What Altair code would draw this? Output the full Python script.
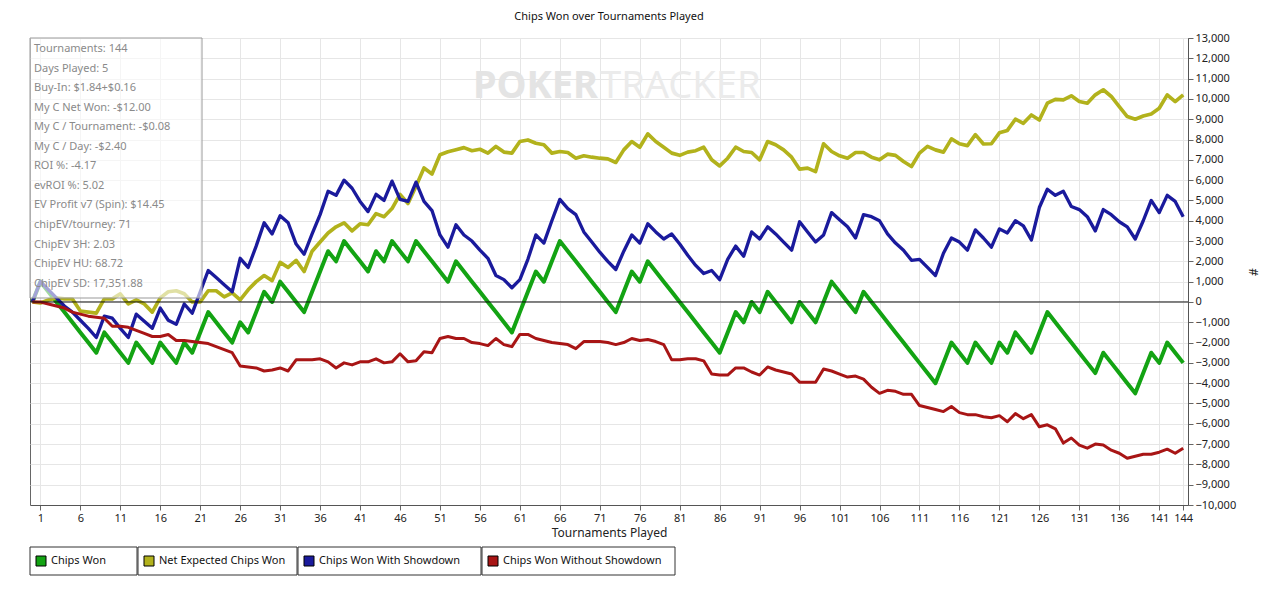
import altair as alt
import pandas as pd

# tournament index (0 = start)
tournaments = list(range(145))

chips_won = [
    0, 1000, 500, 0, -500, -1000, -1500, -2000, -2500, -1500, -2000, -2500, -3000, -2000, -2500, -3000,
    -2000, -2500, -3000, -2000, -2500, -1500, -500, -1000, -1500, -2000, -1000, -1500, -500, 500, 0,
    1000, 500, 0, -500, 500, 1500, 2500, 2000, 3000, 2500, 2000, 1500, 2500, 2000, 3000, 2500, 2000,
    3000, 2500, 2000, 1500, 1000, 2000, 1500, 1000, 500, 0, -500, -1000, -1500, -500, 500, 1500, 1000,
    2000, 3000, 2500, 2000, 1500, 1000, 500, 0, -500, 500, 1500, 1000, 2000, 1500, 1000, 500, 0, -500,
    -1000, -1500, -2000, -2500, -1500, -500, -1000, 0, -500, 500, 0, -500, -1000, 0, -500, -1000, 0,
    1000, 500, 0, -500, 500, 0, -500, -1000, -1500, -2000, -2500, -3000, -3500, -4000, -3000, -2000,
    -2500, -3000, -2000, -2500, -3000, -2000, -2500, -1500, -2000, -2500, -1500, -500, -1000, -1500,
    -2000, -2500, -3000, -3500, -2500, -3000, -3500, -4000, -4500, -3500, -2500, -3000, -2000, -2500, -3000,
]

net_expected = [
    0, -50, 100, 200, 150, 150, -450, -500, -550, 150, 150, 400, -100, 100, -100, -500, 200, 500, 550,
    400, 0, 0, 550, 550, 250, 450, 100, 600, 1000, 1300, 1050, 1950, 1700, 2050, 1500, 2500, 2950, 3400,
    3700, 3900, 3500, 3850, 3800, 4350, 4200, 4600, 5300, 4850, 5700, 6600, 6300, 7250, 7400, 7500, 7600,
    7450, 7520, 7330, 7660, 7380, 7330, 7900, 7980, 7820, 7740, 7330, 7410, 7360, 7080, 7200, 7130, 7080,
    7050, 6870, 7490, 7900, 7620, 8280, 7900, 7620, 7330, 7220, 7380, 7450, 7620, 7000, 6700, 7080, 7620,
    7410, 7360, 7000, 7900, 7740, 7490, 7130, 6540, 6590, 6420, 7790, 7410, 7200, 7080, 7360, 7360, 7130,
    7000, 7280, 7220, 6920, 6670, 7330, 7660, 7490, 7380, 8030, 7790, 7700, 8240, 7780, 7790, 8330, 8450,
    9000, 8800, 9210, 8960, 9790, 9980, 9950, 10150, 9870, 9790, 10200, 10450, 10120, 9620, 9130, 9000,
    9160, 9260, 9540, 10200, 9870, 10200,
]

with_showdown = [
    0, 1000, 600, 200, -200, -500, -900, -1300, -1750, -700, -800, -1300, -1750, -600, -950, -1300, -300,
    -900, -1100, -100, -550, 500, 1550, 1200, 850, 500, 2150, 1700, 2750, 3900, 3350, 4250, 3900, 2850,
    2350, 3350, 4300, 5450, 5250, 6000, 5600, 4950, 4450, 5300, 5000, 5950, 5050, 4950, 5900, 4950, 4500,
    3300, 2700, 3800, 3300, 3000, 2550, 2150, 1300, 1100, 700, 1100, 2100, 3300, 2900, 4000, 5050, 4600,
    4300, 3450, 2950, 2450, 2000, 1600, 2500, 3300, 2900, 3850, 3450, 3100, 3350, 2850, 2300, 1800, 1400,
    1550, 1100, 2100, 2750, 2250, 3450, 3100, 3700, 3350, 2950, 2550, 3950, 3450, 2950, 3300, 4400, 4050,
    3700, 3150, 4300, 4200, 4000, 3350, 2900, 2550, 2050, 2100, 1700, 1300, 2400, 3150, 2950, 2550, 3550,
    3150, 2700, 3600, 3400, 4000, 3750, 3050, 4650, 5550, 5250, 5450, 4700, 4550, 4200, 3500, 4550, 4300,
    3950, 3700, 3100, 4000, 5000, 4400, 5250, 4950, 4200,
]

without_showdown = [
    0, 0, -100, -200, -300, -500, -600, -700, -750, -800, -1200, -1200, -1250, -1400, -1550, -1700, -1700,
    -1600, -1900, -1900, -1950, -2000, -2050, -2200, -2350, -2500, -3150, -3200, -3250, -3400, -3350,
    -3250, -3400, -2850, -2850, -2850, -2800, -2950, -3250, -3000, -3100, -2950, -2950, -2800, -3000,
    -2950, -2550, -2950, -2900, -2450, -2500, -1800, -1700, -1800, -1800, -2000, -2050, -2150, -1800,
    -2100, -2200, -1600, -1600, -1800, -1900, -2000, -2050, -2100, -2300, -1950, -1950, -1950, -2000,
    -2100, -2000, -1800, -1900, -1850, -1950, -2100, -2850, -2850, -2800, -2800, -2900, -3550, -3600,
    -3600, -3250, -3250, -3450, -3600, -3200, -3350, -3450, -3550, -3950, -3950, -3950, -3300, -3400,
    -3550, -3700, -3650, -3800, -4200, -4500, -4350, -4400, -4550, -4550, -5100, -5200, -5300, -5400,
    -5150, -5450, -5550, -5550, -5650, -5700, -5600, -5900, -5500, -5750, -5550, -6150, -6050, -6250,
    -6950, -6700, -7050, -7200, -7000, -7050, -7300, -7450, -7700, -7600, -7500, -7500, -7400, -7250,
    -7450, -7200,
]

series_names = ["Chips Won", "Net Expected Chips Won", "Chips Won With Showdown", "Chips Won Without Showdown"]
series_colors = ["#13a313", "#b2b21c", "#1a1a9c", "#a81515"]
series_widths = [4, 3, 2, 2]

x_ticks = list(range(1, 142, 5)) + [144]
y_ticks = list(range(-10000, 13001, 1000))

stats_lines = [
    "Tournaments: 144", "Days Played: 5", "Buy-In: $1.84+$0.16", "My C Net Won: -$12.00",
    "My C / Tournament: -$0.08", "My C / Day: -$2.40", "ROI %: -4.17", "evROI %: 5.02",
    "EV Profit v7 (Spin): $14.45", "chipEV/tourney: 71", "ChipEV 3H: 2.03", "ChipEV HU: 68.72",
    "ChipEV SD: 17,351.88",
]

frames = []
for name, vals in zip(series_names, [chips_won, net_expected, with_showdown, without_showdown]):
    frames.append(pd.DataFrame({"t": tournaments, "chips": vals, "series": name}))
df = pd.concat(frames)
df["order"] = df["series"].map({"Net Expected Chips Won": 0, "Chips Won Without Showdown": 1,
                                "Chips Won With Showdown": 2, "Chips Won": 3})

FONT = "Noto Sans"
W, H = 1158, 467

x_scale = alt.Scale(domain=[-0.3, 144.6], nice=False, zero=False)
y_scale = alt.Scale(domain=[-10000, 13000], nice=False)
x_axis = alt.Axis(values=x_ticks, labelFontSize=11, titleFontSize=12, titleFontWeight="normal",
                  labelColor="#222", titleColor="#222", gridColor="#e6e6e6", tickColor="#666",
                  domainColor="#555", labelFlush=False, titlePadding=4)
y_axis = alt.Axis(orient="right", values=y_ticks, format=",.0f",
                  labelFontSize=11, titleFontSize=12, titleFontWeight="normal",
                  labelColor="#222", titleColor="#222", gridColor="#e6e6e6",
                  tickColor="#666", domainColor="#555", titlePadding=10)


def xy(xf="t:Q", yf="chips:Q"):
    return dict(x=alt.X(xf, title="Tournaments Played", scale=x_scale, axis=x_axis),
                y=alt.Y(yf, title="#", scale=y_scale, axis=y_axis))


lines = alt.Chart(df).mark_line(strokeJoin="round").encode(
    **xy(),
    color=alt.Color("series:N", scale=alt.Scale(domain=series_names, range=series_colors), legend=None),
    strokeWidth=alt.StrokeWidth("series:N", scale=alt.Scale(domain=series_names, range=series_widths),
                                legend=None),
    order="order:Q",
    detail="series:N",
)

zero = alt.Chart(pd.DataFrame({"t": [0], "chips": [0]})).mark_rule(color="#111", strokeWidth=1).encode(
    y=xy()["y"])

watermark_a = alt.Chart(pd.DataFrame({"s": ["POKER"]})).mark_text(
    align="right", baseline="middle", font=FONT, fontSize=38, fontWeight="bold", color="#e4e4e4"
).encode(text="s:N", x=alt.value(568), y=alt.value(49))
watermark_b = alt.Chart(pd.DataFrame({"s": ["TRACKER"]})).mark_text(
    align="left", baseline="middle", font=FONT, fontSize=38, color="#ebebeb"
).encode(text="s:N", x=alt.value(570), y=alt.value(49))

stats_box = alt.Chart(pd.DataFrame({"a": [0]})).mark_rect(
    fill="white", fillOpacity=0.6, stroke="#999", strokeWidth=1
).encode(x=alt.value(0), x2=alt.value(172), y=alt.value(0), y2=alt.value(260))
stats_text = alt.Chart(pd.DataFrame({"s": ["\n".join(stats_lines)]})).mark_text(
    align="left", baseline="top", lineBreak="\n", lineHeight=19.55, font=FONT, fontSize=11, color="#8a8a8a"
).encode(text="s:N", x=alt.value(4), y=alt.value(5))

# legend: one bordered box per series below the plot
legend_left = [0, 108, 268, 452]
legend_right = [107, 267, 451, 645]
legend_layers = []
for name, col, lx, rx in zip(series_names, series_colors, legend_left, legend_right):
    one = pd.DataFrame({"s": [name]})
    legend_layers.append(alt.Chart(one).mark_rect(fill="white", stroke="#333", strokeWidth=1).encode(
        x=alt.value(lx), x2=alt.value(rx), y=alt.value(509), y2=alt.value(537)))
    legend_layers.append(alt.Chart(one).mark_rect(fill=col, stroke="#000", strokeWidth=1).encode(
        x=alt.value(lx + 6), x2=alt.value(lx + 16), y=alt.value(518), y2=alt.value(528)))
    legend_layers.append(alt.Chart(one).mark_text(
        align="left", baseline="middle", font=FONT, fontSize=11, color="#111").encode(
        text="s:N", x=alt.value(lx + 21), y=alt.value(523)))

chart = alt.layer(watermark_a, watermark_b, lines, zero, stats_box, stats_text, *legend_layers).properties(
    width=W, height=H,
    title=alt.TitleParams("Chips Won over Tournaments Played", fontSize=11, fontWeight="normal",
                          font=FONT, color="#111", offset=10),
    autosize=alt.AutoSizeParams(type="none"),
    padding={"left": 22, "top": 30, "right": 80, "bottom": 76},
).configure(font=FONT, background="white").configure_view(stroke="#666", clip=False)

chart.save("out.html", embed_options={"renderer": "svg", "actions": False})
